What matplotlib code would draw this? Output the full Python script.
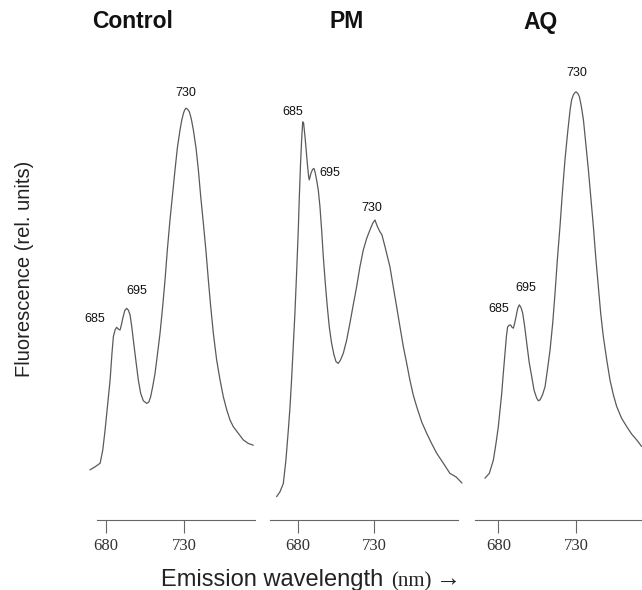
import matplotlib
matplotlib.use("Agg")
import matplotlib.pyplot as plt

# emission spectra (nm, relative units)
ctrl_nm = [669.7, 673.0, 676.2, 677.9, 679.4, 680.9, 682.6, 683.8, 684.7, 685.8,
           686.8, 688.1, 689.0, 689.8, 690.7, 692.0, 693.2, 694.3, 695.4, 696.5,
           697.5, 699.2, 700.7, 702.2, 703.9, 706.1, 707.4, 708.6, 709.9, 711.4,
           712.9, 714.6, 716.3, 717.8, 719.3, 721.0, 722.7, 724.2, 725.7, 727.4,
           728.5, 729.6, 730.4, 731.3, 732.4, 733.4, 734.7, 736.0, 737.7, 739.2,
           740.7, 742.4, 744.1, 745.6, 747.1, 748.8, 750.9, 753.1, 755.2, 757.4,
           759.5, 761.6, 764.8, 768.0, 771.2, 774.4]
ctrl_fl = [11.4, 12.1, 12.9, 15.9, 20.5, 25.8, 31.8, 37.9, 41.7, 43.2,
           43.8, 43.3, 43.2, 44.3, 45.8, 47.6, 48.1, 47.7, 46.6, 43.9,
           40.9, 36.0, 31.8, 28.8, 27.1, 26.5, 26.8, 28.0, 30.3, 33.3,
           37.5, 42.4, 48.5, 54.5, 61.4, 68.2, 74.2, 79.5, 84.5, 88.6,
           90.8, 92.4, 93.2, 93.6, 93.3, 92.8, 91.1, 88.6, 84.5, 79.5,
           73.5, 67.4, 61.0, 54.5, 48.5, 42.4, 36.4, 31.8, 28.0, 25.0,
           22.7, 21.2, 19.7, 18.2, 17.4, 17.0]

pm_nm = [666.2, 668.4, 670.6, 672.3, 673.9, 675.0, 676.0, 677.1, 678.2, 679.3,
         680.4, 681.1, 681.9, 682.6, 683.3, 683.9, 684.8, 685.4, 686.3, 687.2,
         687.6, 688.7, 689.8, 690.7, 691.5, 692.4, 693.5, 694.6, 695.7, 696.8,
         698.1, 699.4, 700.7, 702.2, 703.8, 705.1, 706.6, 708.1, 709.9, 712.1,
         714.2, 716.4, 718.6, 720.8, 723.0, 725.2, 727.3, 729.1, 730.6, 732.2,
         733.9, 735.2, 737.2, 740.4, 742.6, 744.8, 747.0, 749.2, 751.4, 753.5,
         755.7, 757.9, 761.2, 764.5, 767.7, 771.0, 775.4, 779.7, 783.7, 787.6]
pm_fl = [5.3, 6.4, 8.3, 13.6, 20.5, 25.8, 31.8, 39.4, 47.0, 56.1,
         65.9, 73.5, 81.1, 86.4, 90.5, 90.2, 87.1, 84.8, 81.1, 78.0,
         77.3, 78.8, 79.7, 79.9, 78.9, 77.3, 75.0, 71.2, 65.9, 59.8,
         53.8, 48.5, 43.9, 40.2, 37.5, 36.0, 35.6, 36.4, 37.9, 40.9,
         44.7, 48.9, 53.0, 57.6, 61.4, 64.0, 65.9, 67.4, 68.2, 66.7,
         65.5, 64.8, 62.1, 57.6, 53.0, 48.5, 43.9, 39.4, 35.6, 31.8,
         28.4, 25.8, 22.3, 19.7, 17.4, 15.2, 12.9, 10.6, 9.8, 8.4]

aq_nm = [671.4, 674.2, 676.8, 678.5, 680.0, 681.1, 682.2, 683.2, 684.3, 685.2,
         686.0, 687.1, 688.0, 688.8, 689.7, 690.5, 691.4, 692.5, 693.5, 694.6,
         695.7, 697.0, 698.3, 699.8, 701.5, 703.0, 704.7, 705.8, 706.9, 708.4,
         710.1, 711.6, 713.3, 715.0, 716.5, 718.0, 719.7, 721.2, 722.9, 724.7,
         726.2, 727.2, 728.3, 729.2, 730.0, 731.1, 732.2, 733.5, 734.8, 736.3,
         738.0, 739.5, 741.2, 742.7, 744.4, 745.9, 747.6, 749.8, 751.9, 754.1,
         756.2, 759.4, 762.7, 765.9, 769.1, 772.3]
aq_fl = [9.5, 10.6, 13.6, 17.4, 21.2, 25.0, 28.8, 33.3, 37.9, 41.7,
         43.9, 44.3, 44.3, 43.8, 43.6, 44.7, 46.2, 48.1, 48.9, 48.3,
         47.0, 43.9, 40.2, 36.0, 32.6, 29.5, 27.7, 27.1, 27.3, 28.4,
         30.3, 34.1, 38.6, 44.7, 51.5, 59.1, 66.7, 74.2, 81.8, 88.3,
         93.2, 95.5, 96.6, 97.1, 97.3, 97.0, 96.2, 93.9, 90.9, 85.6,
         79.5, 73.5, 66.7, 59.8, 53.0, 47.0, 41.7, 36.4, 31.8, 28.4,
         25.8, 23.1, 21.2, 19.5, 18.2, 16.7]

titles = ["Control", "PM", "AQ"]
peak_names = ["685", "695", "730"]
xticks = [680, 730]

sans = ["Liberation Sans", "DejaVu Sans"]
serif = ["Liberation Serif", "DejaVu Serif"]
line_col = "#5a5a5a"
W, H = 642, 590

fig = plt.figure(figsize=(W / 100, H / 100), dpi=100)

panels = [
    # left, width (fig fraction), xlim, peak label spots
    (0.1506, 0.2466, (674.0, 775.5), [(672.9, 45.7), (699.7, 52.1), (731.3, 97.0)]),
    (0.4206, 0.2928, (661.9, 785.0), [(676.9, 92.8), (701.2, 78.9), (728.5, 70.8)]),
    (0.7399, 0.2601, (665.0, 772.5), [(680.0, 47.9), (697.8, 52.8), (730.5, 101.7)]),
]
spectra = [(ctrl_nm, ctrl_fl), (pm_nm, pm_fl), (aq_nm, aq_fl)]

for (left, width, xl, lab_pos), (x, y) in zip(panels, spectra):
    ax = fig.add_axes([left, 70 / H, width, 440 / H])
    ax.plot(x, y, color=line_col, lw=0.9, clip_on=False,
            solid_joinstyle="round", solid_capstyle="round")
    ax.set_xlim(*xl)
    ax.set_ylim(0, 100)
    for s in ["left", "right", "top"]:
        ax.spines[s].set_visible(False)
    ax.spines["bottom"].set_color("#666666")
    ax.spines["bottom"].set_linewidth(0.8)
    ax.set_yticks([])
    ax.set_xticks(xticks)
    ax.tick_params(axis="x", direction="out", length=9, width=0.8,
                   color="#666666", pad=4, labelsize=12, labelcolor="#333333")
    for lbl in ax.get_xticklabels():
        lbl.set_family(serif)
    for name, (lx, ly) in zip(peak_names, lab_pos):
        ax.text(lx, ly, name, ha="center", va="center", fontsize=9,
                family=sans, color="#111111")

for name, xc in zip(titles, [133, 347, 541]):
    fig.text(xc / W, 1 - 22 / H, name, ha="center", va="center",
             fontsize=16.5, fontweight="bold", family=sans, color="#111111")

fig.text(25 / W, 1 - 269 / H, "Fluorescence (rel. units)", rotation=90,
         ha="center", va="center", fontsize=14.5, family=sans, color="#222222")

fig.text(161 / W, 1 - 586 / H, "Emission wavelength", ha="left",
         va="baseline", fontsize=17, family=sans, color="#222222")
fig.text(391 / W, 1 - 586 / H, "(nm)", ha="left", va="baseline",
         fontsize=15, family=serif, color="#222222")
fig.text(436 / W, 1 - 586 / H, "\u2192", ha="left", va="baseline",
         fontsize=18, family=serif, color="#222222")

fig.savefig("out.png", dpi=100)
